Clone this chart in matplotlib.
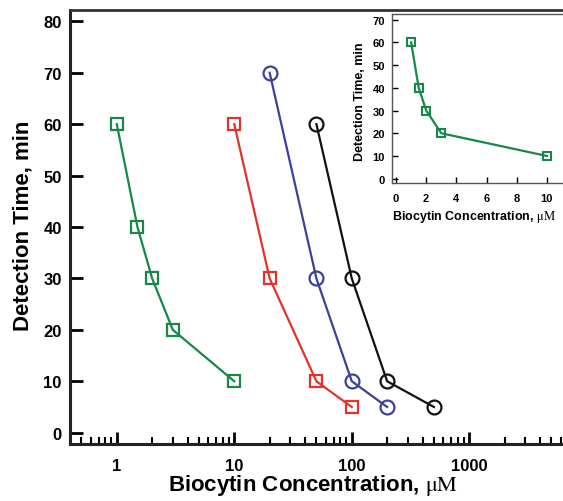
import matplotlib
matplotlib.use("Agg")
import matplotlib.pyplot as plt
from matplotlib.ticker import LogLocator, NullFormatter

plt.rcParams['font.family'] = ['Liberation Sans', 'DejaVu Sans']
plt.rcParams['mathtext.fontset'] = 'stix'

# data
green_x = [1, 1.5, 2, 3, 10]
green_y = [60, 40, 30, 20, 10]
red_x = [10, 20, 50, 100]
red_y = [60, 30, 10, 5]
blue_x = [20, 50, 100, 200]
blue_y = [70, 30, 10, 5]
black_x = [50, 100, 200, 500]
black_y = [60, 30, 10, 5]

yticks_main = [0, 10, 20, 30, 40, 50, 60, 70, 80]
xticks_main = [1, 10, 100, 1000]
xtick_labels_main = ['1', '10', '100', '1000']
yticks_inset = [0, 10, 20, 30, 40, 50, 60, 70]
xticks_inset = [0, 2, 4, 6, 8, 10]

GREEN = '#15884a'
RED = '#e3312b'
BLUE = '#3c3f9c'
BLACK = '#111111'

W, H = 563, 502
fig = plt.figure(figsize=(W / 100, H / 100), dpi=100)

# main axes
l, r, t, b = 70, 568.6, 11, 445
ax = fig.add_axes([l / W, 1 - b / H, (r - l) / W, (b - t) / H])
ax.set_xscale('log')
ax.set_xlim(0.4, 7000)
ax.set_ylim(-2.2, 82.2)

ax.plot(green_x, green_y, color=GREEN, lw=1.6, marker='s', ms=8, mfc='none', mew=1.6)
ax.plot(red_x, red_y, color=RED, lw=1.6, marker='s', ms=8, mfc='none', mew=1.6)
ax.plot(blue_x, blue_y, color=BLUE, lw=1.6, marker='o', ms=10, mfc='none', mew=1.6)
ax.plot(black_x, black_y, color=BLACK, lw=1.6, marker='o', ms=10, mfc='none', mew=1.6)

ax.set_yticks(yticks_main)
ax.set_xticks(xticks_main)
ax.set_xticklabels(xtick_labels_main)
ax.xaxis.set_minor_locator(LogLocator(base=10, subs=range(2, 10), numticks=20))
ax.xaxis.set_minor_formatter(NullFormatter())
ax.tick_params(axis='both', which='major', direction='in', length=9, width=2,
               labelsize=12, top=False, right=False)
ax.tick_params(axis='y', which='major', pad=6)
ax.tick_params(axis='x', which='major', pad=10)
ax.tick_params(axis='x', which='minor', direction='in', length=5, width=1.5,
               top=False)
for lab in ax.get_xticklabels() + ax.get_yticklabels():
    lab.set_fontweight('bold')
for s in ['left', 'bottom']:
    ax.spines[s].set_linewidth(2.2)
    ax.spines[s].set_color('#222222')
ax.spines['top'].set_linewidth(2)
ax.spines['top'].set_color('#333333')
ax.spines['right'].set_visible(False)

ax.set_xlabel(r'Biocytin Concentration, $\mathrm{\mu M}$', fontsize=16,
              fontweight='bold')
ax.xaxis.label.set_va('baseline')
ax.xaxis.set_label_coords((313 - l) / (r - l), -(491 - b) / (b - t))
ax.set_ylabel('Detection Time, min', fontsize=16, fontweight='bold')
ax.yaxis.label.set(va='center', ha='center', rotation_mode='anchor')
ax.yaxis.set_label_coords(-(l - 23) / (r - l), (b - 226) / (b - t))

# inset
il, ir, it, ib = 392, 568, 15, 184
ax2 = fig.add_axes([il / W, 1 - ib / H, (ir - il) / W, (ib - it) / H])
ax2.set_xlim(-0.27, 11.4)
ax2.set_ylim(-1.9, 72.5)
ax2.plot(green_x, green_y, color=GREEN, lw=1.6, marker='s', ms=6, mfc='none', mew=1.5)
ax2.set_yticks(yticks_inset)
ax2.set_xticks(xticks_inset)
ax2.tick_params(axis='both', direction='in', length=4, width=1,
                labelsize=8, top=False, right=False)
ax2.tick_params(axis='y', pad=5)
ax2.tick_params(axis='x', pad=7)
for lab in ax2.get_xticklabels() + ax2.get_yticklabels():
    lab.set_fontweight('bold')
for s in ['left', 'bottom', 'top']:
    ax2.spines[s].set_linewidth(1)
    ax2.spines[s].set_color('#555555')
ax2.spines['right'].set_visible(False)
ax2.set_xlabel(r'Biocytin Concentration, $\mathrm{\mu M}$', fontsize=9,
               fontweight='bold')
ax2.xaxis.label.set_va('baseline')
ax2.xaxis.set_label_coords((474 - il) / (ir - il), -(220 - ib) / (ib - it))
ax2.set_ylabel('Detection Time, min', fontsize=9, fontweight='bold')
ax2.yaxis.label.set(va='center', ha='center', rotation_mode='anchor')
ax2.yaxis.set_label_coords(-(il - 360) / (ir - il), (ib - 102) / (ib - it))

fig.savefig('out.png', dpi=100)
